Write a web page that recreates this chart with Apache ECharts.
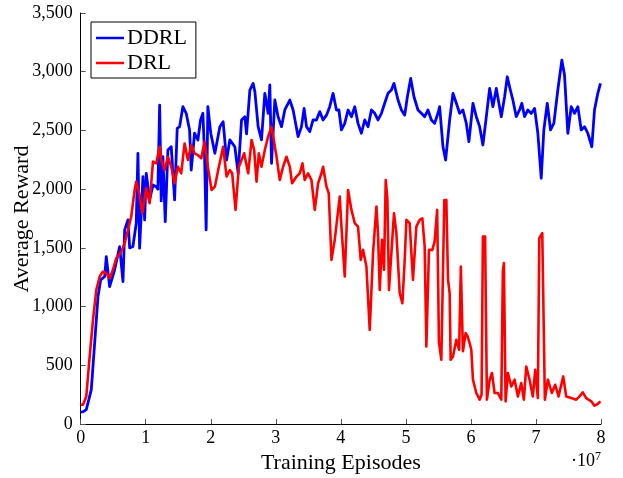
<!DOCTYPE html>
<html>
<head>
<meta charset="utf-8">
<script src="https://cdn.jsdelivr.net/npm/echarts@6/dist/echarts.min.js"></script>
<style>html,body{margin:0;padding:0;background:#fff;}#c{width:623px;height:478px;}</style>
</head>
<body>
<div id="c"></div>
<script>
// x values in units of 1e7 training episodes
var ddrlX = [0.00,0.04,0.086,0.163,0.215,0.266,0.307,0.369,0.393,0.445,0.522,0.599,0.650,0.676,0.727,0.753,0.803,0.854,0.880,0.906,0.957,0.983,1.008,1.060,1.111,1.161,1.187,1.214,1.238,1.264,1.300,1.341,1.392,1.444,1.484,1.521,1.571,1.622,1.674,1.699,1.751,1.802,1.843,1.879,1.905,1.929,1.955,2.000,2.063,2.140,2.190,2.243,2.293,2.370,2.421,2.473,2.524,2.550,2.601,2.651,2.678,2.728,2.780,2.831,2.882,2.908,2.934,2.985,3.035,3.088,3.138,3.215,3.266,3.343,3.395,3.435,3.472,3.522,3.573,3.625,3.676,3.727,3.779,3.829,3.880,3.932,3.970,4.009,4.060,4.111,4.163,4.214,4.264,4.316,4.367,4.418,4.470,4.521,4.571,4.624,4.674,4.725,4.777,4.817,4.879,4.931,4.982,5.023,5.074,5.124,5.186,5.238,5.289,5.339,5.392,5.442,5.493,5.519,5.570,5.611,5.673,5.724,5.776,5.826,5.877,5.929,5.969,6.031,6.083,6.134,6.184,6.237,6.288,6.338,6.390,6.467,6.518,6.559,6.594,6.645,6.697,6.748,6.783,6.825,6.876,6.928,6.979,7.029,7.081,7.121,7.174,7.224,7.275,7.336,7.398,7.439,7.490,7.542,7.593,7.644,7.696,7.747,7.797,7.859,7.900,7.951,7.992];
var ddrlY = [100,105,122,292,692,1086,1227,1256,1426,1171,1313,1511,1213,1653,1738,1500,1511,1710,2305,1497,2107,1738,2135,1908,2036,2021,2000,2716,1900,2276,1723,2333,2361,1908,2518,2532,2702,2646,2504,2163,2476,2419,2589,2646,2276,1653,2702,2476,2305,2532,2574,2248,2419,2361,2135,2589,2617,2470,2844,2901,2830,2532,2419,2816,2646,2887,2220,2759,2617,2532,2674,2759,2674,2447,2532,2688,2532,2490,2589,2589,2660,2589,2630,2702,2816,2674,2674,2504,2560,2674,2617,2702,2560,2476,2589,2532,2674,2646,2589,2646,2731,2816,2844,2901,2759,2674,2630,2787,2943,2787,2674,2646,2617,2674,2589,2560,2646,2702,2361,2248,2589,2816,2731,2646,2674,2560,2404,2731,2617,2532,2376,2617,2858,2702,2858,2617,2787,2957,2872,2759,2617,2674,2731,2617,2674,2645,2688,2476,2093,2504,2731,2504,2560,2844,3099,2972,2476,2702,2645,2702,2504,2532,2476,2361,2674,2816,2901];

var drlX = [0.00,0.035,0.086,0.138,0.189,0.240,0.292,0.343,0.393,0.445,0.496,0.547,0.624,0.676,0.727,0.777,0.829,0.854,0.906,0.946,1.008,1.060,1.111,1.161,1.214,1.238,1.290,1.341,1.392,1.444,1.495,1.545,1.598,1.648,1.699,1.751,1.802,1.853,1.905,1.955,2.012,2.063,2.114,2.190,2.243,2.293,2.329,2.381,2.432,2.473,2.513,2.575,2.627,2.667,2.704,2.739,2.780,2.831,2.882,2.934,2.969,3.011,3.061,3.112,3.164,3.215,3.250,3.318,3.369,3.410,3.445,3.496,3.548,3.599,3.650,3.702,3.727,3.779,3.814,3.856,3.906,3.983,4.009,4.060,4.111,4.163,4.214,4.264,4.306,4.341,4.393,4.444,4.495,4.547,4.571,4.598,4.633,4.664,4.690,4.716,4.740,4.777,4.817,4.854,4.905,4.946,4.982,5.008,5.058,5.109,5.161,5.212,5.253,5.289,5.315,5.355,5.407,5.442,5.481,5.508,5.545,5.566,5.591,5.622,5.648,5.673,5.688,5.724,5.776,5.819,5.845,5.860,5.877,5.919,5.950,5.980,6.006,6.031,6.083,6.134,6.164,6.184,6.218,6.246,6.288,6.323,6.364,6.415,6.467,6.491,6.507,6.533,6.568,6.621,6.671,6.722,6.774,6.814,6.851,6.902,6.952,6.989,7.029,7.051,7.097,7.137,7.183,7.244,7.296,7.347,7.419,7.465,7.542,7.619,7.670,7.720,7.773,7.850,7.900,7.948,7.992];
var drlY = [164,164,235,575,887,1142,1256,1298,1284,1242,1313,1412,1468,1540,1653,1766,1993,2064,1950,1795,2007,1880,2234,2220,2361,2248,2163,2276,2191,2050,2191,2135,2389,2248,2375,2305,2290,2262,2404,2191,1993,2021,2163,2361,2107,2163,2135,1823,2191,2248,2305,2135,2419,2333,2064,2305,2191,2333,2447,2532,2419,2276,2078,2191,2276,2191,2050,2107,2135,2220,2078,2135,2078,1823,2050,2135,2191,2021,1965,1398,1568,1937,1681,1256,1993,1823,1710,1681,1398,1483,1341,802,1455,1851,1625,1142,1568,1313,2078,1908,1142,1455,1795,1625,1114,1029,1398,1738,1710,1228,1681,1738,1752,1511,660,1483,1483,1555,1823,700,547,560,1908,1908,1228,1114,547,575,717,632,1341,1341,620,774,745,689,632,377,264,207,250,1596,1596,207,377,434,264,264,207,1300,1370,193,434,320,377,235,349,207,490,377,235,462,221,1582,1625,207,377,264,334,235,405,235,221,207,235,270,221,193,156,170,193];

var xTicks = [0,1,2,3,4,5,6,7,8];
var seriesNames = ['DDRL','DRL'];
var xName = 'Training Episodes';
var yName = 'Average Reward';

var serif = '"Liberation Serif", "DejaVu Serif", serif';
function pairs(xs, ys){ return xs.map(function(x,i){ return [x, ys[i]]; }); }

var chart = echarts.init(document.getElementById('c'), null, {renderer:'canvas'});
chart.setOption({
  animation: false,
  backgroundColor: '#fff',
  grid: {left: 80.7, right: 22, top: 13, bottom: 54, containLabel: false, outerBoundsMode: 'none'},
  legend: {
    show: true,
    orient: 'vertical',
    left: 91, top: 22,
    data: seriesNames,
    icon: 'rect',
    itemWidth: 28, itemHeight: 2.5,
    itemGap: 3,
    padding: [5, 9, 4, 5],
    borderColor: '#000', borderWidth: 1,
    textStyle: {fontFamily: serif, fontSize: 22, color: '#000', padding: [0,0,0,-2]}
  },
  xAxis: {
    type: 'value', min: 0, max: 8, interval: 1,
    name: xName, nameLocation: 'middle', nameGap: 28,
    nameTextStyle: {fontFamily: serif, fontSize: 22, color: '#000'},
    axisLine: {show: true, lineStyle: {color: '#000', width: 1}},
    axisTick: {show: true, inside: true, length: 5, lineStyle: {color: '#555'}},
    axisLabel: {fontFamily: serif, fontSize: 18, color: '#000', margin: 5,
      formatter: function(v){ return xTicks.indexOf(v) >= 0 ? String(v) : ''; }},
    splitLine: {show: false}
  },
  yAxis: {
    type: 'value', min: 0, max: 3500, interval: 500,
    axisLine: {show: true, lineStyle: {color: '#000', width: 1}},
    axisTick: {show: true, inside: true, length: 5, lineStyle: {color: '#555'}},
    axisLabel: {fontFamily: serif, fontSize: 18, color: '#000', margin: 8,
      formatter: function(v){ return v.toLocaleString('en-US'); }},
    splitLine: {show: false}
  },
  graphic: [{
    type: 'text', left: 571, top: 451,
    style: {
      text: '·10{s|7}', fontFamily: serif, fontSize: 18, fill: '#000',
      rich: {s: {fontFamily: serif, fontSize: 12, verticalAlign: 'top', padding: [0,0,8,0]}}
    }
  }, {
    type: 'text', x: 22, y: 219, rotation: Math.PI / 2,
    style: {
      text: yName, fontFamily: serif, fontSize: 22, fill: '#000',
      align: 'center', verticalAlign: 'middle'
    }
  }],
  series: [{
    name: 'DDRL', type: 'line', data: pairs(ddrlX, ddrlY),
    showSymbol: false, symbol: 'none',
    lineStyle: {color: '#0000ff', width: 2.8, join: 'round'},
    itemStyle: {color: '#0000ff'}, z: 2
  }, {
    name: 'DRL', type: 'line', data: pairs(drlX, drlY),
    showSymbol: false, symbol: 'none',
    lineStyle: {color: '#ff0000', width: 2.6, join: 'round'},
    itemStyle: {color: '#ff0000'}, z: 3
  }]
});
</script>
</body>
</html>
